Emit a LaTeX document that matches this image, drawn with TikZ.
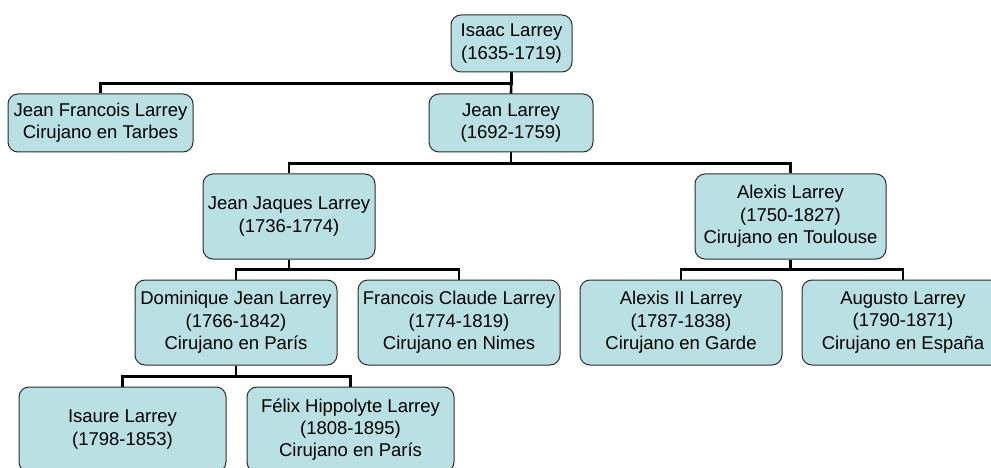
\documentclass[tikz,border=0pt]{standalone}
\usepackage{fontspec}
\setmainfont{Liberation Sans}
\definecolor{boxfill}{RGB}{185,225,228}
\definecolor{boxline}{RGB}{45,45,45}
\begin{document}
\begin{tikzpicture}[x=1pt,y=-1pt,
  box/.style={draw=boxline, fill=boxfill, line width=1pt, rounded corners=10pt,
    align=center, inner sep=0pt, font=\fontsize{18.5}{22.3}\selectfont},
  conn/.style={draw=black, line width=2.6pt}]
\useasboundingbox (0,0) rectangle (991,468);
\clip (0,0) rectangle (991,468);
% connectors first
\coordinate (isaacbus) at (511.5,83);
% nodes
\node[box, minimum width=121pt, minimum height=57pt] (isaac) at (511.5,43.5) {Isaac Larrey\\(1635-1719)};
\node[box, minimum width=185pt, minimum height=58pt] (jf) at (100.5,123) {Jean Francois Larrey\\Cirujano en Tarbes};
\node[box, minimum width=164pt, minimum height=58pt] (jean) at (511,123) {Jean Larrey\\(1692-1759)};
\node[box, minimum width=172pt, minimum height=85pt] (jj) at (289,216.5) {Jean Jaques Larrey\\(1736-1774)};
\node[box, minimum width=191pt, minimum height=85pt] (alexis) at (790.5,216.5) {Alexis Larrey\\(1750-1827)\\Cirujano en Toulouse};
\node[box, minimum width=202pt, minimum height=85pt] (dom) at (236,322.5) {Dominique Jean Larrey\\(1766-1842)\\Cirujano en París};
\node[box, minimum width=202pt, minimum height=85pt] (fc) at (459,322.5) {Francois Claude Larrey\\(1774-1819)\\Cirujano en Nimes};
\node[box, minimum width=202pt, minimum height=85pt] (a2) at (681,322.5) {Alexis II Larrey\\(1787-1838)\\Cirujano en Garde};
\node[box, minimum width=202pt, minimum height=85pt] (aug) at (903,322.5) {Augusto Larrey\\(1790-1871)\\Cirujano en España};
\node[box, minimum width=207pt, minimum height=85pt] (isaure) at (122.5,429.5) {Isaure Larrey\\(1798-1853)};
\node[box, minimum width=207pt, minimum height=85pt] (felix) at (350.5,429.5) {Félix Hippolyte Larrey\\(1808-1895)\\Cirujano en París};
% connectors
\draw[conn] (isaac.south) -- (jean.north);
\draw[conn] (isaac.south) -- ++(0,11) -| (jf.north);
\draw[conn] (jean.south) -- ++(0,11) -| (jj.north);
\draw[conn] (jean.south) -- ++(0,11) -| (alexis.north);
\draw[conn] (jj.south) -- ++(0,10) -| (dom.north);
\draw[conn] (jj.south) -- ++(0,10) -| (fc.north);
\draw[conn] (alexis.south) -- ++(0,10) -| (a2.north);
\draw[conn] (alexis.south) -- ++(0,10) -| (aug.north);
\draw[conn] (dom.south) -- ++(0,11) -| (isaure.north);
\draw[conn] (dom.south) -- ++(0,11) -| (felix.north);
\end{tikzpicture}
\end{document}
